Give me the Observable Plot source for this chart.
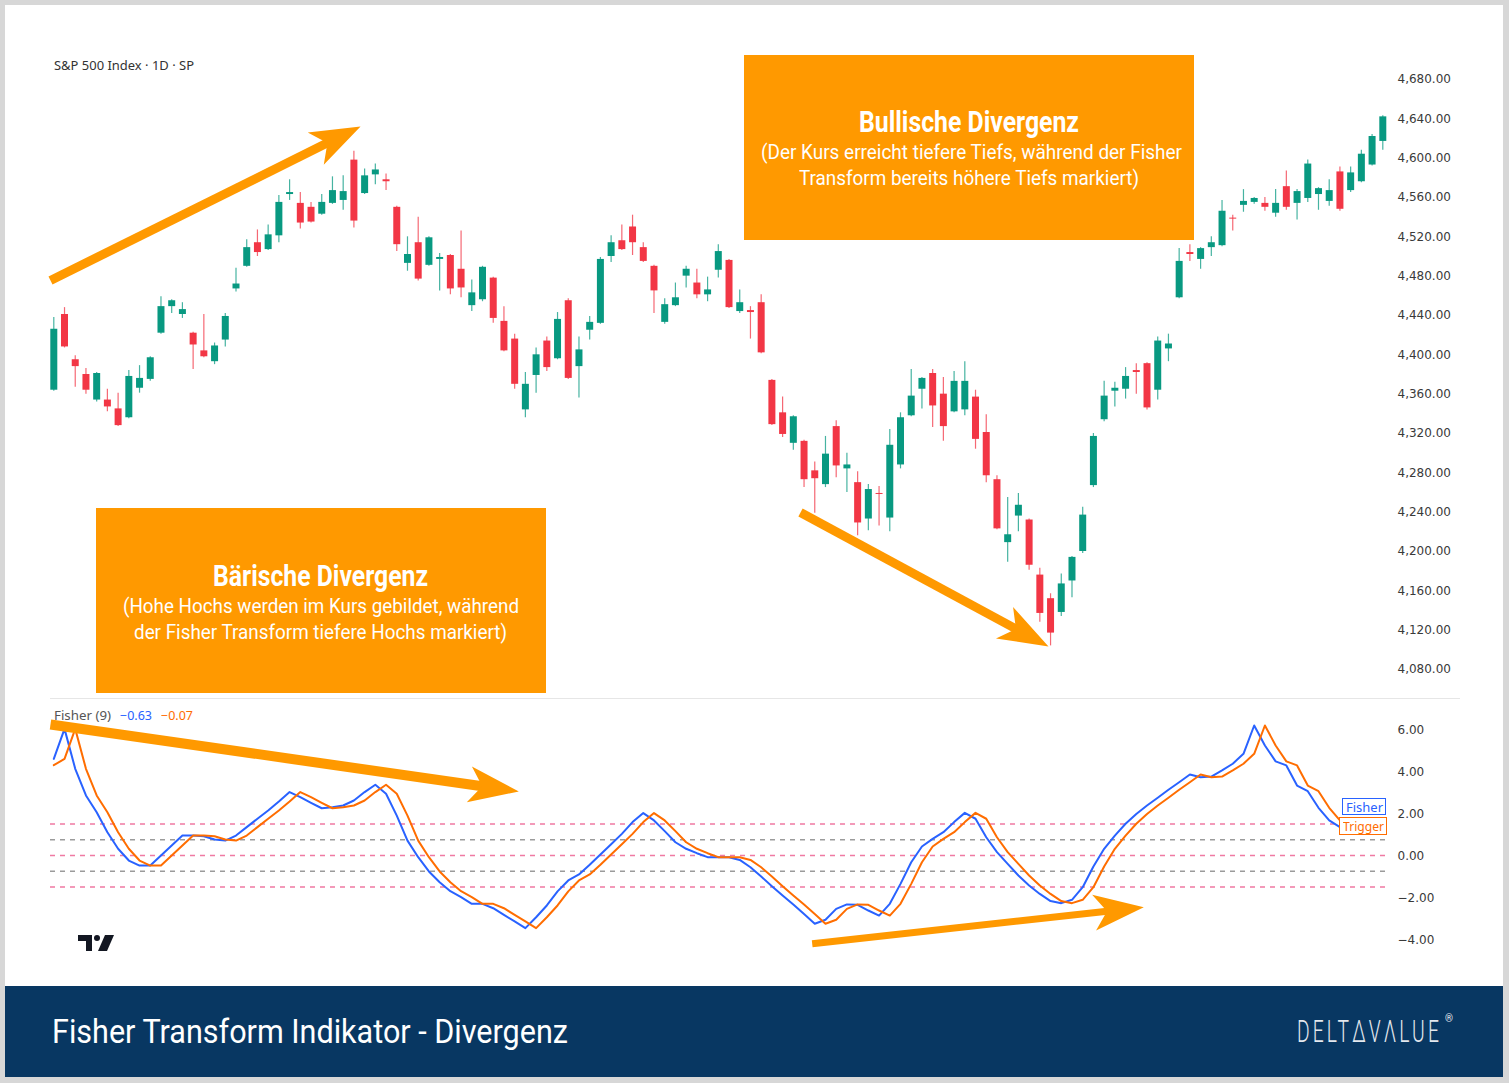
<!DOCTYPE html>
<html><head><meta charset="utf-8">
<script src="https://cdn.jsdelivr.net/npm/d3@7"></script>
<script src="https://cdn.jsdelivr.net/npm/@observablehq/plot@0.6"></script>
<style>
html,body{margin:0;padding:0;background:#d7d7d7;overflow:hidden;}
#root{position:relative;width:1509px;height:1083px;background:#d7d7d7;overflow:hidden;font-family:Roboto,sans-serif;}
.abs{position:absolute;}
</style></head>
<body><div id="root">
<div class="abs" style="left:5px;top:5px;width:1498px;height:981px;background:#fff;"></div>
<div class="abs" style="left:5px;top:986px;width:1498px;height:91px;background:#083762;"></div>
<div class="abs" style="left:50px;top:698px;width:1410px;height:1px;background:#e6e6e6;"></div>
</div>
<script>
// ---------- data ----------
const opens = [4363,4440,4394,4379,4353,4353,4344,4335,4365,4374, 4421,4448,4440,4421,4403,4392,4414,4466,4489,4513, 4506,4520,4562,4553,4549,4542,4553,4556,4597,4563, 4582,4577,4549,4492,4513,4490,4496,4500,4486,4449, 4455,4477,4433,4415,4343,4378,4413,4395,4454,4387, 4424,4431,4499,4515,4529,4508,4489,4432,4449,4479, 4472,4460,4485,4495,4443,4444,4452,4373,4340,4309, 4311,4281,4267,4326,4283,4269,4232,4258,4233,4287, 4337,4364,4380,4359,4341,4343,4356,4320,4272,4208, 4235,4231,4175,4151,4137,4169,4199,4266,4333,4362, 4364,4383,4390,4363,4405,4457,4503,4496,4508,4510, 4538,4551,4554,4553,4543,4570,4553,4558,4562,4555, 4585,4566,4575,4592,4616];
const highs = [4437,4447,4398,4385,4381,4364,4360,4383,4388,4397, 4458,4455,4452,4422,4440,4411,4441,4487,4516,4526, 4531,4561,4577,4564,4554,4562,4580,4581,4606,4588, 4593,4583,4550,4519,4539,4519,4502,4501,4525,4475, 4489,4478,4448,4420,4381,4406,4417,4442,4456,4417, 4438,4498,4520,4531,4541,4513,4490,4456,4472,4489, 4486,4478,4511,4496,4465,4448,4460,4374,4356,4337, 4312,4290,4316,4332,4299,4280,4267,4265,4323,4340, 4384,4376,4384,4376,4382,4392,4363,4338,4276,4254, 4258,4232,4182,4156,4176,4194,4244,4319,4372,4371, 4386,4390,4391,4417,4420,4507,4511,4508,4519,4556, 4541,4567,4559,4559,4567,4586,4567,4597,4569,4577, 4590,4590,4607,4623,4642];
const lows = [4362,4406,4366,4359,4351,4341,4326,4334,4360,4372, 4420,4441,4436,4384,4396,4389,4407,4463,4488,4499, 4505,4513,4556,4527,4533,4541,4552,4546,4528,4562, 4572,4566,4504,4484,4474,4489,4464,4460,4457,4443, 4453,4431,4402,4364,4335,4360,4382,4394,4374,4355, 4414,4430,4493,4505,4500,4493,4441,4430,4448,4467, 4456,4453,4477,4446,4441,4415,4400,4327,4315,4302, 4264,4238,4264,4274,4259,4215,4220,4225,4219,4283, 4336,4344,4325,4311,4340,4337,4303,4269,4221,4188, 4219,4180,4127,4103,4133,4152,4197,4264,4331,4346, 4354,4359,4343,4353,4392,4456,4494,4486,4499,4509, 4525,4544,4552,4545,4539,4546,4536,4554,4546,4550, 4545,4564,4574,4591,4607];
const closes = [4425,4407,4387,4363,4380,4346,4327,4377,4375,4396, 4448,4454,4445,4409,4397,4408,4438,4471,4508,4503, 4521,4554,4564,4533,4534,4554,4566,4565,4535,4581, 4587,4575,4511,4501,4476,4518,4498,4466,4467,4462, 4488,4436,4403,4369,4369,4399,4386,4435,4375,4404, 4432,4496,4513,4506,4513,4494,4464,4450,4457,4486, 4460,4465,4504,4447,4452,4442,4401,4328,4318,4336, 4272,4273,4298,4286,4287,4228,4262,4257,4307,4335, 4357,4375,4347,4326,4372,4372,4313,4276,4222,4216, 4246,4185,4136,4116,4166,4193,4236,4316,4357,4365, 4377,4381,4345,4413,4410,4494,4501,4507,4513,4545, 4537,4555,4558,4549,4553,4549,4565,4593,4568,4566, 4547,4584,4603,4621,4641];

const fisherValues = [4.6,6.03,4.13,2.86,2.06,1.11,0.32,-0.24,-0.48,-0.48, 0,0.48,0.95,0.95,0.92,0.76,0.71,0.95,1.35,1.75, 2.14,2.57,3.02,2.78,2.51,2.25,2.3,2.38,2.62,3.02, 3.37,2.94,1.9,0.71,-0.08,-0.76,-1.27,-1.7,-1.98,-2.3, -2.3,-2.51,-2.83,-3.14,-3.46,-2.94,-2.38,-1.71,-1.19,-0.9, -0.44,0.05,0.54,1.03,1.59,2.02,1.67,1.16,0.63,0.32, 0.11,-0.08,-0.08,-0.08,-0.21,-0.56,-1.0,-1.46,-1.9,-2.33, -2.78,-3.25,-3.06,-2.54,-2.33,-2.35,-2.62,-2.86,-2.3,-1.35, -0.32,0.43,0.79,1.11,1.59,2.03,1.75,0.87,0.16,-0.4, -0.95,-1.43,-1.83,-2.17,-2.27,-2.11,-1.51,-0.52,0.32,0.95, 1.51,1.98,2.38,2.75,3.13,3.49,3.86,3.73,3.76,4.05, 4.37,4.84,6.19,5.24,4.48,4.29,3.33,3.06,2.27,1.67, 1.35];
const triggerValues = [4.3,4.6,6.03,4.13,2.86,2.06,1.11,0.32,-0.24,-0.48, -0.48,0,0.48,0.95,0.95,0.92,0.76,0.71,0.95,1.35, 1.75,2.14,2.57,3.02,2.78,2.51,2.25,2.3,2.38,2.62, 3.02,3.37,2.94,1.9,0.71,-0.08,-0.76,-1.27,-1.7,-1.98, -2.3,-2.3,-2.51,-2.83,-3.14,-3.46,-2.94,-2.38,-1.71,-1.19, -0.9,-0.44,0.05,0.54,1.03,1.59,2.02,1.67,1.16,0.63, 0.32,0.11,-0.08,-0.08,-0.08,-0.21,-0.56,-1.0,-1.46,-1.9, -2.33,-2.78,-3.25,-3.06,-2.54,-2.33,-2.35,-2.62,-2.86,-2.3, -1.35,-0.32,0.43,0.79,1.11,1.59,2.03,1.75,0.87,0.16, -0.4,-0.95,-1.43,-1.83,-2.17,-2.27,-2.11,-1.51,-0.52,0.32, 0.95,1.51,1.98,2.38,2.75,3.13,3.49,3.86,3.73,3.76, 4.05,4.37,4.84,6.19,5.24,4.48,4.29,3.33,3.06,2.27, 1.67];

const priceTicks = [4080,4120,4160,4200,4240,4280,4320,4360,4400,4440,4480,4520,4560,4600,4640,4680];
const fisherTicks = [-4,-2,0,2,4,6];
const pinkLevels = [1.5, 0, -1.5];
const grayLevels = [0.75, -0.75];

// annotation arrows (bar index, value)
const priceArrows = [
  {x1:-0.31, y1:4474.6, x2:28.62, y2:4631.2, w:9},
  {x1:69.67, y1:4238.6, x2:92.81, y2:4102.4, w:9}
];
const fisherArrows = [
  {x1:-0.31, y1:6.24, x2:43.39, y2:3.05, w:10},
  {x1:70.76, y1:-4.2, x2:101.7, y2:-2.46, w:7}
];

// ---------- styles ----------
const UP = "#089981", DOWN = "#F23645", ORANGE = "#FF9900";
const X = {domain:[0,124], range:[53.3,1382.3]};
const PY = {domain:[4080,4680], range:[668,78]};
const FY = {domain:[-4,6], range:[239,29]};

const candles = opens.map((o,i)=>({i, open:o, high:highs[i], low:lows[i], close:closes[i]}));
const up = candles.filter(d=>d.close>=d.open), down = candles.filter(d=>d.close<d.open);
const fisher = fisherValues.map((v,i)=>({i,v}));
const trigger = triggerValues.map((v,i)=>({i,v}));

const dart = {draw(ctx){ ctx.moveTo(0,0); ctx.lineTo(-18,50); ctx.lineTo(0,37); ctx.lineTo(18,50); ctx.closePath(); }};

function arrowMarks(arrows, Y){
  const xs = d3.scaleLinear(X.domain, X.range), ys = d3.scaleLinear(Y.domain, Y.range);
  const a = arrows.map(d=>{
    const px1=xs(d.x1), py1=ys(d.y1), px2=xs(d.x2), py2=ys(d.y2);
    const th = Math.atan2(py2-py1, px2-px1);
    const ex = px2 - 30*Math.cos(th), ey = py2 - 30*Math.sin(th);
    return {...d, ex: xs.invert(ex), ey: ys.invert(ey), rot: th*180/Math.PI + 90};
  });
  return [
    Plot.link(a, {x1:"x1", y1:"y1", x2:"ex", y2:"ey", stroke:ORANGE, strokeWidth:d=>d.w, strokeLinecap:"butt"}),
    Plot.dot(a, {x:"x2", y:"y2", symbol:dart, r:5, rotate:"rot", fill:ORANGE, stroke:"none"})
  ];
}

const axisStyle = {fontFamily:"'DejaVu Sans', sans-serif", fontSize:"12px", color:"#3a3a3a", background:"transparent", overflow:"visible"};

const price = Plot.plot({
  width:1509, height:700, marginLeft:50, marginRight:119, marginTop:0, marginBottom:0,
  x:{...X, axis:null}, y:{...PY, axis:null},
  style:axisStyle,
  marks:[
    Plot.axisY(priceTicks, {anchor:"right", tickSize:0, tickPadding:7, dy:1, tickFormat:d3.format(",.2f"), label:null, fill:"#3a3a3a"}),
    Plot.ruleX(up, {x:"i", y1:"low", y2:"high", stroke:UP, strokeWidth:1.2, strokeOpacity:0.75}),
    Plot.ruleX(down, {x:"i", y1:"low", y2:"high", stroke:DOWN, strokeWidth:1.2, strokeOpacity:0.75}),
    Plot.ruleX(up, {x:"i", y1:"open", y2:"close", stroke:UP, strokeWidth:7}),
    Plot.ruleX(down, {x:"i", y1:"open", y2:"close", stroke:DOWN, strokeWidth:7}),
    ...arrowMarks(priceArrows, PY)
  ]
});
price.style.position="absolute"; price.style.left="0px"; price.style.top="0px";

const fish = Plot.plot({
  width:1509, height:285, marginLeft:50, marginRight:119, marginTop:0, marginBottom:0,
  x:{...X, axis:null}, y:{...FY, axis:null},
  style:axisStyle,
  marks:[
    Plot.axisY(fisherTicks, {anchor:"right", tickSize:0, tickPadding:7, dy:1, tickFormat:d3.format(".2f"), label:null, fill:"#3a3a3a"}),
    Plot.ruleY(pinkLevels, {stroke:"#f07aa3", strokeWidth:1.5, strokeDasharray:"5,5"}),
    Plot.ruleY(grayLevels, {stroke:"#9b9b9b", strokeWidth:1.5, strokeDasharray:"5,5"}),
    Plot.line(fisher, {x:"i", y:"v", stroke:"#2962FF", strokeWidth:2}),
    Plot.line(trigger, {x:"i", y:"v", stroke:"#FF6D00", strokeWidth:2}),
    ...arrowMarks(fisherArrows, FY)
  ]
});
fish.style.position="absolute"; fish.style.left="0px"; fish.style.top="700px";

const root = document.getElementById("root");
root.appendChild(price);
root.appendChild(fish);

// ---------- annotation boxes & texts ----------
function box(l,t,w,h,bg){ const d=document.createElement("div"); d.className="abs"; d.style.cssText+=`left:${l}px;top:${t}px;width:${w}px;height:${h}px;background:${bg};`; root.appendChild(d); return d; }
box(744,55,450,185,ORANGE);
box(96,508,450,185,ORANGE);

function txt(t,{x,w,yc,size,weight=400,color="#fff",family="Roboto, sans-serif",ls=0}){
  const s=document.createElement("span");
  s.textContent=t;
  s.style.cssText=`position:absolute;left:${x}px;top:${yc-size/2}px;font-family:${family};font-size:${size}px;font-weight:${weight};line-height:${size}px;color:${color};white-space:nowrap;transform-origin:0 50%;letter-spacing:${ls}px;`;
  root.appendChild(s);
  if(w){ const r=s.getBoundingClientRect().width; s.style.transform=`scaleX(${w/r})`; }
  return s;
}
txt("Bullische Divergenz",{x:859,w:220,yc:122,size:29,weight:700});
txt("(Der Kurs erreicht tiefere Tiefs, während der Fisher",{x:761,w:421,yc:152,size:20});
txt("Transform bereits höhere Tiefs markiert)",{x:799,w:340,yc:178,size:20});
txt("Bärische Divergenz",{x:213,w:215,yc:576,size:29,weight:700});
txt("(Hohe Hochs werden im Kurs gebildet, während",{x:123,w:396,yc:606,size:20});
txt("der Fisher Transform tiefere Hochs markiert)",{x:134,w:373,yc:632,size:20});
txt("Fisher Transform Indikator - Divergenz",{x:52,w:516,yc:1031,size:34});
txt("DELTΔVΛLUE",{x:1297,w:145,yc:1031,size:31,weight:300,color:"#e4e8ee",ls:5});
txt("®",{x:1445,w:8,yc:1018,size:11,color:"#e4e8ee"});

txt("S&P 500 Index · 1D · SP",{x:54,w:140,yc:66,size:12,color:"#333",family:"'Noto Sans', sans-serif"});
txt("Fisher (9)",{x:54,w:57,yc:716,size:12,color:"#555",family:"'Noto Sans', sans-serif"});
txt("−0.63",{x:120,w:32,yc:716,size:12,color:"#2962FF",family:"'Noto Sans', sans-serif"});
txt("−0.07",{x:161,w:32,yc:716,size:12,color:"#FF6D00",family:"'Noto Sans', sans-serif"});

// right-side line labels
const fb = box(1342,798,44,17,"#fff"); fb.style.border="1px solid #2962FF"; fb.style.boxSizing="border-box";
const tb = box(1339,817,48,18,"#fff"); tb.style.border="1px solid #FF6D00"; tb.style.boxSizing="border-box";
txt("Fisher",{x:1346,w:37,yc:807,size:13,color:"#2962FF",family:"'Noto Sans', sans-serif"});
txt("Trigger",{x:1343,w:41,yc:826,size:13,color:"#FF6D00",family:"'Noto Sans', sans-serif"});

// TradingView logo
const logo=document.createElement("div");
logo.className="abs"; logo.style.cssText+="left:78px;top:935px;";
logo.innerHTML='<svg width="36" height="16" viewBox="0 0 36 16"><path d="M0 0H14V16H8V6H0Z" fill="#131722"/><circle cx="19" cy="3" r="3" fill="#131722"/><path d="M27 0H36L29 16H20Z" fill="#131722"/></svg>';
root.appendChild(logo);
</script>
</body></html>
